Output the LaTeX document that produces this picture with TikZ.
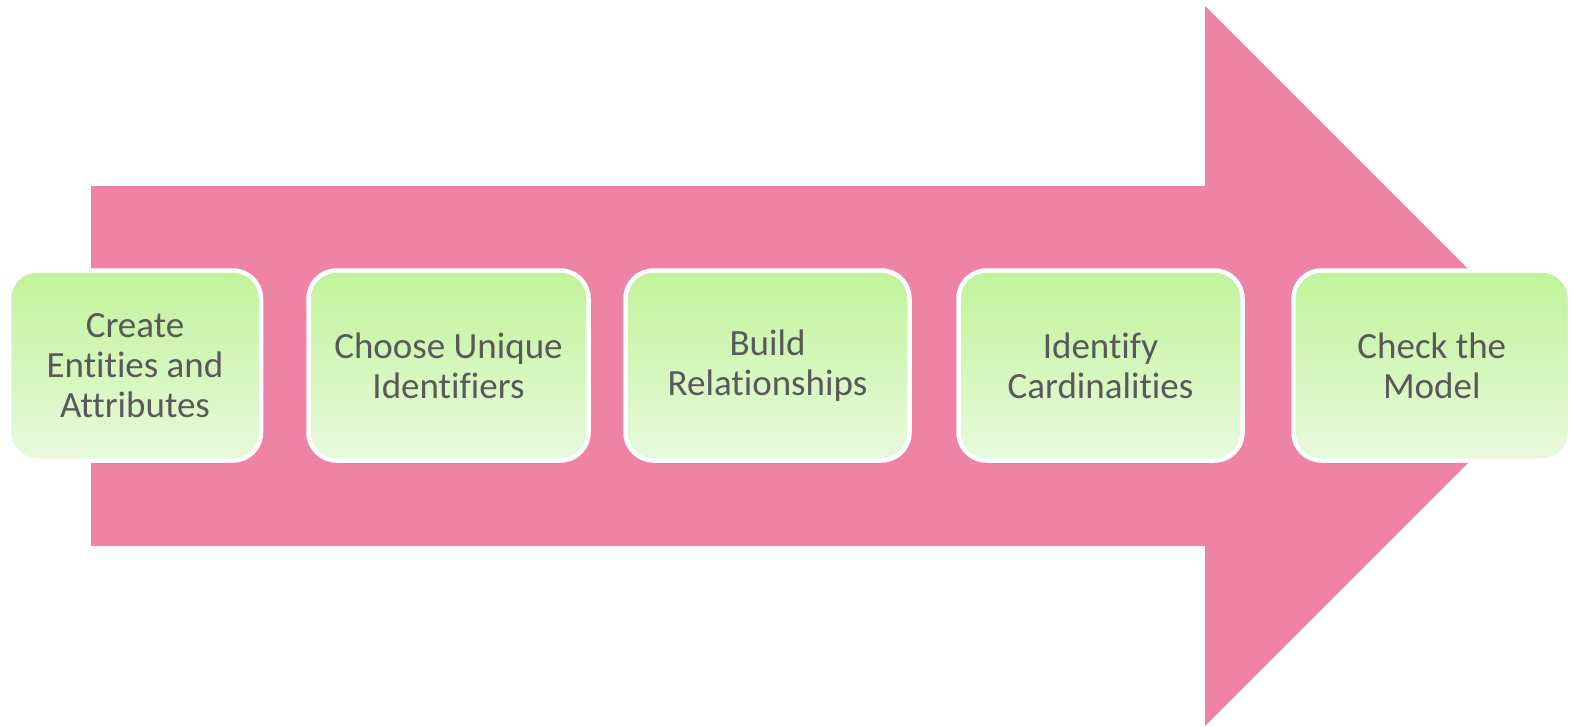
\documentclass[tikz,border=0pt]{standalone}
\usepackage{fontspec}
\setmainfont{Carlito}[Ligatures={NoCommon}]
\definecolor{arrowpink}{RGB}{239,131,166}
\definecolor{greentop}{RGB}{193,243,153}
\definecolor{greenbot}{RGB}{232,249,222}
\definecolor{textgray}{RGB}{89,89,89}
\begin{document}
\begin{tikzpicture}[x=1pt,y=-1pt,
  stepbox/.style={draw=white, line width=4.5pt, rounded corners=28pt,
    top color=greentop, bottom color=greenbot, minimum height=190pt,
    align=center, text=textgray, inner sep=0pt,
    font=\fontsize{37}{40}\selectfont}]
\useasboundingbox (0,0) rectangle (1572,726);
\fill[arrowpink] (91,186) -- (1205,186) -- (1205,6) -- (1565,366) -- (1205,726) -- (1205,546) -- (91,546) -- cycle;
\node[stepbox, minimum width=252pt] (s1) at (135,365.5) {Create\\Entities and\\Attributes};
\node[stepbox, minimum width=280pt] (s2) at (448.5,365.5) {Choose Unique\\Identifiers};
\node[stepbox, minimum width=284pt] (s3) at (767.5,365.5) {Build\\Relationships};
\node[stepbox, minimum width=284pt] (s4) at (1100.5,365.5) {Identify\\Cardinalities};
\node[stepbox, minimum width=276.5pt] (s5) at (1431.75,365.5) {Check the\\Model};
\end{tikzpicture}
\end{document}
